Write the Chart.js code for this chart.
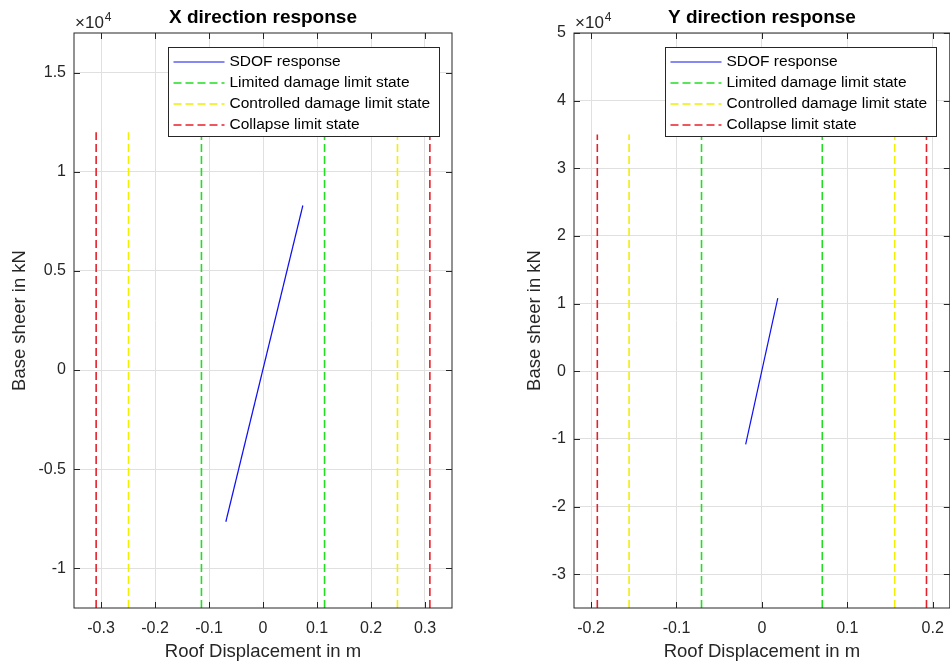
<!DOCTYPE html>
<html>
<head>
<meta charset="utf-8">
<script src="https://cdn.jsdelivr.net/npm/chart.js@4.4.1/dist/chart.umd.min.js"></script>
<style>
    html, body { margin: 0; padding: 0; background: #fff; overflow: hidden; width: 950px; height: 666px; }
    #left { position: absolute; left: 0; top: 0; width: 475px; height: 666px; }
    #right { position: absolute; left: 475px; top: 0; width: 480px; height: 666px; }
</style>
</head>
<body>
<div id="left"><canvas id="xChart"></canvas></div>
<div id="right"><canvas id="yChart"></canvas></div>
<script>
const legendLabels = ['SDOF response', 'Limited damage limit state', 'Controlled damage limit state', 'Collapse limit state'];
const legendColors = ['#1010ee', '#22dd22', '#f0f000', '#e8202a'];

// X direction
const xSdofDisp = [-0.0688, 0.0738];
const xSdofShear = [-7650, 8300];
const xLimitDisp = [0.114, 0.249, 0.309];
const xLimitShear = 12000;
const xDirTicksX = [-0.3, -0.2, -0.1, 0, 0.1, 0.2, 0.3];
const xDirTicksY = [-10000, -5000, 0, 5000, 10000, 15000];

// Y direction
const ySdofDisp = [-0.019, 0.0186];
const ySdofShear = [-10800, 10800];
const yLimitDisp = [0.0707, 0.1555, 0.1927];
const yLimitShear = 35000;
const yDirTicksX = [-0.2, -0.1, 0, 0.1, 0.2];
const yDirTicksY = [-30000, -20000, -10000, 0, 10000, 20000, 30000, 40000, 50000];

const FONT = "'Liberation Sans', Arial, sans-serif";
const INK = '#262626';

const matlabPlugin = {
    id: 'matlab',
    afterDraw(chart, args, opts) {
        const { ctx, chartArea: a, scales: { x, y } } = chart;
        ctx.save();
        ctx.strokeStyle = INK;
        ctx.lineWidth = 1;

        // box and inward tick marks on all sides
        ctx.strokeRect(a.left, a.top, a.right - a.left, a.bottom - a.top);
        const tl = 6;
        ctx.beginPath();
        x.ticks.forEach((t) => {
            const px = Math.round(x.getPixelForValue(t.value)) + 0.5;
            ctx.moveTo(px, a.bottom); ctx.lineTo(px, a.bottom - tl);
            ctx.moveTo(px, a.top); ctx.lineTo(px, a.top + tl);
        });
        y.ticks.forEach((t) => {
            const py = Math.round(y.getPixelForValue(t.value)) + 0.5;
            ctx.moveTo(a.left, py); ctx.lineTo(a.left + tl, py);
            ctx.moveTo(a.right, py); ctx.lineTo(a.right - tl, py);
        });
        ctx.stroke();

        // legend inside the plot, top right
        const lw = 271, lh = 89;
        const lx = Math.round(a.right - 13.5 - lw) + 0.5;
        const ly = Math.round(a.top + 13.5) + 0.5;
        ctx.fillStyle = '#fff';
        ctx.fillRect(lx, ly, lw, lh);
        ctx.strokeStyle = INK;
        ctx.strokeRect(lx, ly, lw, lh);
        ctx.font = `15.5px ${FONT}`;
        ctx.textBaseline = 'middle';
        ctx.textAlign = 'left';
        legendLabels.forEach((label, i) => {
            const ry = Math.round(ly + 14.5 + i * 21);
            ctx.strokeStyle = legendColors[i];
            ctx.lineWidth = i === 0 ? 1.2 : 1.6;
            ctx.setLineDash(i === 0 ? [] : [8, 4]);
            ctx.beginPath();
            ctx.moveTo(lx + 5, ry);
            ctx.lineTo(lx + 56, ry);
            ctx.stroke();
            ctx.fillStyle = '#000';
            ctx.fillText(label, lx + 61, ry);
        });
        ctx.setLineDash([]);

        // title
        ctx.fillStyle = '#000';
        ctx.textAlign = 'center';
        ctx.font = `bold 19px ${FONT}`;
        ctx.fillText(opts.title, (a.left + a.right) / 2, 18);

        // exponent label
        ctx.fillStyle = INK;
        ctx.textAlign = 'left';
        ctx.textBaseline = 'alphabetic';
        ctx.font = `17px ${FONT}`;
        ctx.fillText('\u00d710', a.left + 1, 28);
        const w = ctx.measureText('\u00d710').width;
        ctx.font = `12px ${FONT}`;
        ctx.fillText('4', a.left + 1 + w + 1, 21);

        // axis titles
        ctx.font = `18.5px ${FONT}`;
        ctx.textAlign = 'center';
        ctx.textBaseline = 'middle';
        ctx.fillText('Roof Displacement in m', (a.left + a.right) / 2, 652);
        ctx.translate(opts.yTitleX, (a.top + a.bottom) / 2);
        ctx.rotate(-Math.PI / 2);
        ctx.fillText('Base sheer in kN', 0, 0);
        ctx.restore();
    }
};

function makeChart(id, o) {
    const datasets = [{
        data: o.sdofDisp.map((d, i) => ({ x: d, y: o.sdofShear[i] })),
        borderColor: legendColors[0],
        borderWidth: 1.2,
        pointRadius: 0,
        showLine: true,
    }];
    o.limitDisp.forEach((v, i) => {
        [-v, v].forEach((d) => {
            datasets.push({
                data: [{ x: d, y: -o.limitShear }, { x: d, y: o.limitShear }],
                borderColor: legendColors[i + 1],
                borderWidth: 1.6,
                borderDash: [8, 4],
                pointRadius: 0,
                showLine: true,
            });
        });
    });

    const tickFont = { family: FONT, size: 16 };

    return new Chart(document.getElementById(id), {
        type: 'scatter',
        data: { datasets },
        options: {
            responsive: true,
            maintainAspectRatio: false,
            animation: false,
            layout: { padding: { top: 33, right: o.padRight, left: 0, bottom: 0 } },
            plugins: {
                legend: { display: false },
                tooltip: { enabled: false },
                matlab: { title: o.title, yTitleX: o.yTitleX },
            },
            scales: {
                x: {
                    type: 'linear',
                    min: o.xMin,
                    max: o.xMax,
                    afterBuildTicks: (s) => { s.ticks = o.ticksX.map((value) => ({ value })); },
                    afterFit: (s) => { s.height = 58; },
                    grid: { color: '#e0e0e0', drawTicks: false },
                    border: { display: false },
                    ticks: {
                        padding: 11,
                        color: INK,
                        font: tickFont,
                        maxRotation: 0,
                        autoSkip: false,
                        callback: (v) => String(v),
                    },
                },
                y: {
                    type: 'linear',
                    min: o.yMin,
                    max: o.yMax,
                    afterBuildTicks: (s) => { s.ticks = o.ticksY.map((value) => ({ value })); },
                    afterFit: (s) => { s.width = o.axisLeft; },
                    grid: { color: '#e0e0e0', drawTicks: false },
                    border: { display: false },
                    ticks: {
                        padding: 8,
                        color: INK,
                        font: tickFont,
                        autoSkip: false,
                        callback: (v) => String(v / 10000),
                    },
                },
            },
        },
        plugins: [matlabPlugin],
    });
}

makeChart('xChart', {
    title: 'X direction response',
    sdofDisp: xSdofDisp, sdofShear: xSdofShear,
    limitDisp: xLimitDisp, limitShear: xLimitShear,
    ticksX: xDirTicksX, ticksY: xDirTicksY,
    xMin: -0.35, xMax: 0.35, yMin: -12000, yMax: 17000,
    axisLeft: 74, padRight: 23, yTitleX: 20,
});

makeChart('yChart', {
    title: 'Y direction response',
    sdofDisp: ySdofDisp, sdofShear: ySdofShear,
    limitDisp: yLimitDisp, limitShear: yLimitShear,
    ticksX: yDirTicksX, ticksY: yDirTicksY,
    xMin: -0.22, xMax: 0.22, yMin: -35000, yMax: 50000,
    axisLeft: 99, padRight: 3.5, yTitleX: 60,
});
</script>
</body>
</html>
